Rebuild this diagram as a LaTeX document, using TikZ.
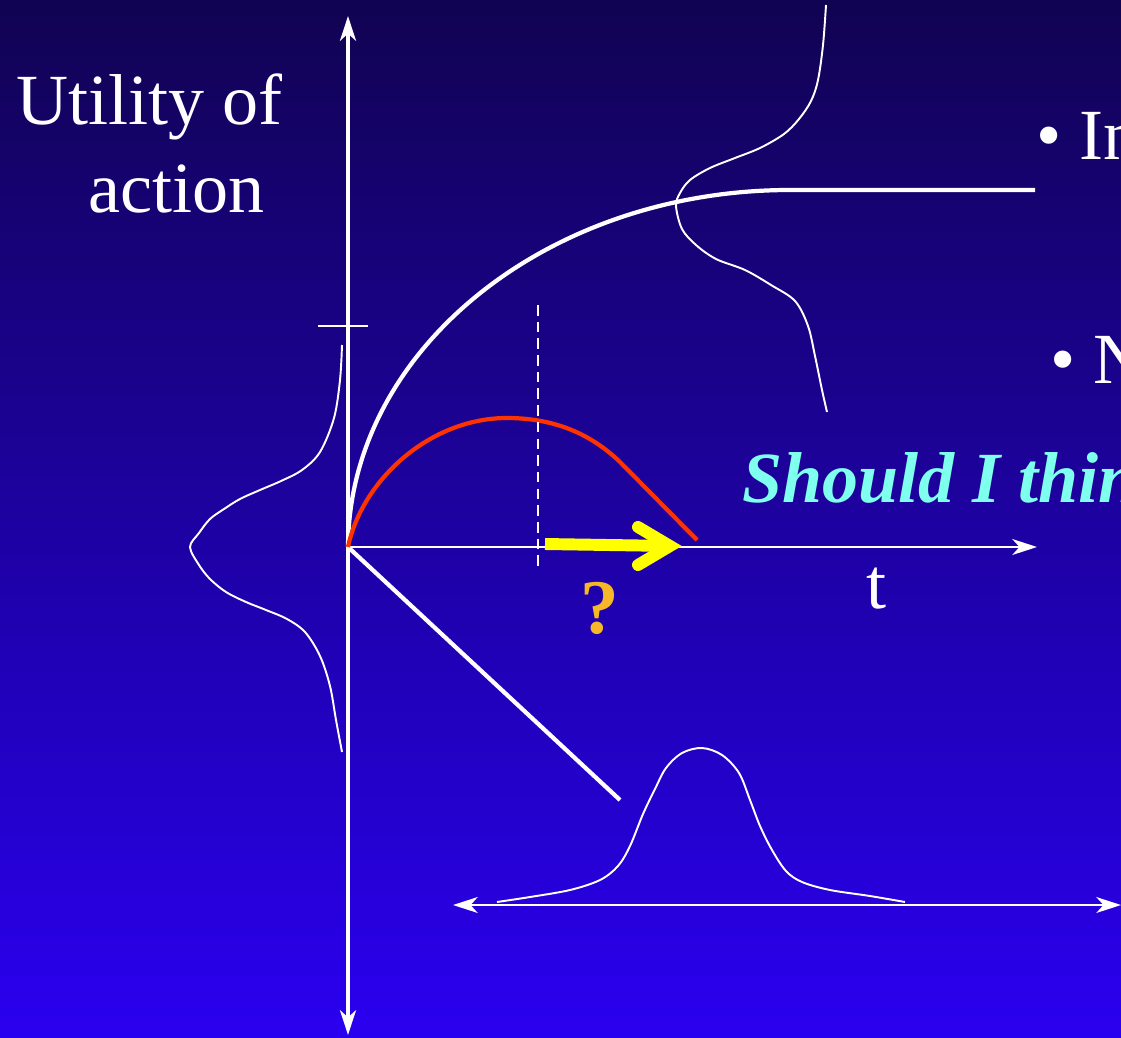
\documentclass[tikz,border=0pt]{standalone}
\usepackage{fontspec}
\setmainfont{Liberation Serif}
\usetikzlibrary{arrows.meta}
\usepackage{xcolor}
\definecolor{SlideTop}{RGB}{17,3,82}
\definecolor{SlideBottom}{RGB}{42,0,240}
\definecolor{ThinkCyan}{RGB}{127,255,238}
\definecolor{QuestionGold}{RGB}{246,184,40}
\definecolor{CostRed}{RGB}{255,51,0}
\definecolor{StepYellow}{RGB}{255,255,0}
\tikzset{
  axistip/.tip={Stealth[length=14pt,width=9pt,inset=4pt]},
  axis/.style={white, line width=2.5pt, axistip-axistip},
  timeaxis/.style={white, line width=1.4pt, -axistip},
  spreadaxis/.style={white, line width=1.4pt, axistip-axistip},
  utilitycurve/.style={white, line width=2.4pt},
  costcurve/.style={CostRed, line width=2.4pt},
  density/.style={white, line width=1.1pt, line join=round},
  nowline/.style={white, line width=1.2pt, dash pattern=on 6pt off 3.5pt},
  stepshaft/.style={StepYellow, line width=6.8pt},
  slidetext/.style={text=white, inner sep=0pt, anchor=base west,
    font=\fontsize{41}{49}\selectfont},
  thinktext/.style={text=ThinkCyan, inner sep=0pt, anchor=base west,
    font=\fontsize{41}{49}\selectfont\bfseries\itshape},
  questiontext/.style={text=QuestionGold, inner sep=0pt, anchor=base west,
    font=\fontsize{44}{52}\selectfont\bfseries}
}

\begin{document}
\begin{tikzpicture}[x=0.02cm, y=-0.02cm]
  \shade[top color=SlideTop, bottom color=SlideBottom] (0,0) rectangle (1121,1037);
  \clip (0,0) rectangle (1121,1037);

  \coordinate (origin) at (348,547);
  \coordinate (utop) at (348,16);
  \coordinate (ubottom) at (348,1035);
  \coordinate (tend) at (1037,547);
  \coordinate (tickl) at (318,326);
  \coordinate (tickr) at (368,326);
  \coordinate (spreadl) at (453,905);
  \coordinate (spreadr) at (1121,905);
  \coordinate (plateau) at (790,190);
  \coordinate (plateauend) at (1035,190);
  \coordinate (costpeak) at (507,418);
  \coordinate (costbend) at (620,462);
  \coordinate (costend) at (697,540);
  \coordinate (lossend) at (620,800);
  \coordinate (nowtop) at (538,305);
  \coordinate (nowbottom) at (538,570);

  \draw[axis] (ubottom) -- (utop);
  \draw[white, line width=1.4pt] (tickl) -- (tickr);
  \draw[timeaxis] (origin) -- (tend);
  \draw[spreadaxis] (spreadl) -- (spreadr);

  \draw[utilitycurve] (origin) .. controls (349,350) and (547,190) .. (plateau) -- (plateauend);
  \draw[utilitycurve] (origin) -- (lossend);
  \draw[costcurve] (origin) .. controls (362,480) and (430,418) .. (costpeak)
    .. controls (560,418) and (595,438) .. (costbend) -- (costend);
  \draw[nowline] (nowtop) -- (nowbottom);

  % spread of the possible outcomes
  \draw[density] plot[smooth, tension=0.55] coordinates {(342,345) (340,380) (334,418) (320,452)
    (302,470) (281,481) (260,490) (240,499) (224,509) (210,519) (199,533) (190,547)
    (199,565) (210,579) (226,592) (246,602) (266,610) (287,619) (305,632) (320,656)
    (330,686) (336,720) (342,752)};
  \draw[density] plot[smooth, tension=0.55] coordinates {(826,5) (823,45) (818,80) (811,101)
    (799,119) (784,134) (760,148) (735,158) (710,168) (690,180) (680,193) (676,206)
    (682,229) (696,245) (716,259) (745,270) (771,285) (795,301) (808,326) (815,356)
    (822,390) (827,412)};
  \draw[density] plot[smooth, tension=0.55] coordinates {(497,902) (530,897) (570,890)
    (600,880) (618,866) (630,846) (643,814) (655,789) (666,768) (682,753) (702,748)
    (722,755) (739,773) (750,800) (760,826) (772,850) (786,871) (802,882) (830,890)
    (870,896) (905,902)};

  \draw[stepshaft, line cap=butt] (545,544) -- (672,546);
  \draw[stepshaft, line cap=round, line join=miter] (638,527) -- (670,546) -- (638,565);

  \node[slidetext] (ylabel) at (16,125) {Utility of};
  \node[slidetext] (ylabel2) at (88,213) {action};
  \node[slidetext] (tlabel) at (866,608) {t};
  \node[questiontext] (question) at (580,633) {?};
  \node[thinktext] (think) at (742,502) {Should I thin};
  \node[slidetext] (point1) at (1036,160) {\textbullet\ In};
  \node[slidetext] (point2) at (1050,383) {\textbullet\ N};
\end{tikzpicture}
\end{document}
